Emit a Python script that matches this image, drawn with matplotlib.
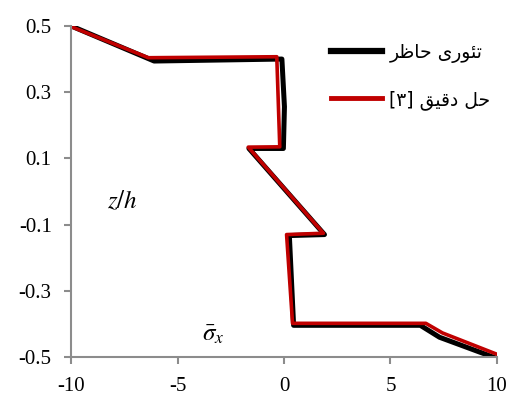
import matplotlib
matplotlib.use("Agg")
import matplotlib.pyplot as plt

plt.rcParams['mathtext.fontset'] = 'stix'

# present theory (black)
s_theory = [-10, -6.1, -0.1, 0.02, -0.03, -1.65, 1.9, 0.25, 0.45, 6.4, 7.3, 9.95]
z_theory = [0.5, 0.394, 0.40, 0.256, 0.13, 0.13, -0.13, -0.133, -0.404, -0.404, -0.44, -0.503]

# exact solution [3] (red)
s_exact = [-10, -6.37, -0.34, -0.2, -1.68, 1.85, 0.12, 0.4, 6.66, 7.44, 10.1]
z_exact = [0.498, 0.404, 0.407, 0.135, 0.134, -0.126, -0.13, -0.398, -0.398, -0.427, -0.494]

x_ticks = [-10, -5, 0, 5, 10]
y_ticks = [-0.5, -0.3, -0.1, 0.1, 0.3, 0.5]

# Persian labels, pre-shaped (presentation forms) in visual order
label_theory = "\uFEAE\uFEC7\uFE8E\uFEA3 \uFEEF\uFEAD\uFEEE\uFE8C\uFE97"   # تئوری حاضر
label_exact = "[\u06F3] \uFED6\uFEF4\uFED7\uFEA9 \uFEDE\uFEA3"            # حل دقیق [۳]

fig = plt.figure(figsize=(5.15, 3.99), dpi=100)
ax = fig.add_axes([0.138, 0.105, 0.827, 0.83])

ax.plot(s_theory, z_theory, color='black', lw=3.6, label=label_theory)
ax.plot(s_exact, z_exact, color='#C00000', lw=2.6, label=label_exact)

ax.set_xlim(-10, 10)
ax.set_ylim(-0.5, 0.5)
ax.set_xticks(x_ticks)
ax.set_yticks(y_ticks)
ax.set_xticklabels([str(v) for v in x_ticks])
ax.set_yticklabels([f"{v:.1f}" for v in y_ticks])

for side in ['top', 'right']:
    ax.spines[side].set_visible(False)
for side in ['left', 'bottom']:
    ax.spines[side].set_color('#8c8c8c')
    ax.spines[side].set_linewidth(1.5)
ax.tick_params(colors='#8c8c8c', length=5, width=1.5, labelcolor='black', labelsize=15)
for lab in ax.get_xticklabels() + ax.get_yticklabels():
    lab.set_family('Liberation Serif')
ax.tick_params(axis='x', pad=9)
ax.tick_params(axis='y', pad=9)

ax.text(-7.6, -0.03, '$z/h$', fontsize=18, ha='center', va='center')
ax.text(-3.3, -0.43, r'$\bar{\sigma}_x$', fontsize=18, ha='center', va='center')

leg = ax.legend(loc='upper right', bbox_to_anchor=(0.985, 0.935), bbox_transform=fig.transFigure,
                frameon=False, prop={'family': 'DejaVu Sans', 'size': 13.5}, handlelength=2.7,
                handletextpad=0.4, labelspacing=1.45)
leg.get_lines()[0].set_linewidth(4.5)
leg.get_lines()[1].set_linewidth(3.5)

fig.savefig('out.png', dpi=100)
